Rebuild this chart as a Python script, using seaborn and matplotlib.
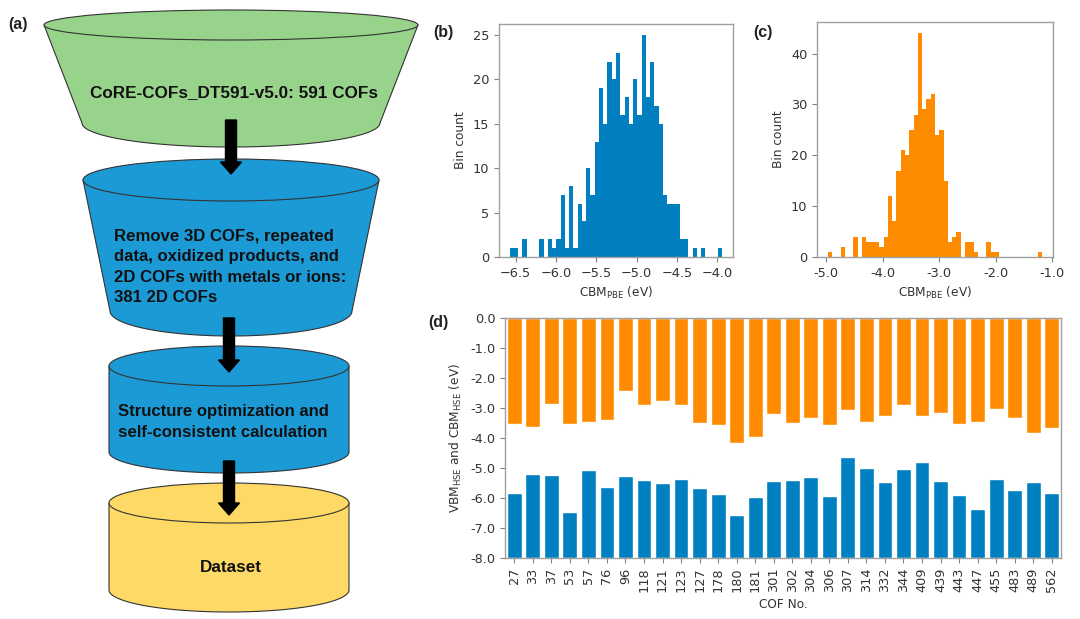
import numpy as np
import pandas as pd
import seaborn as sns
import matplotlib.pyplot as plt
from matplotlib.patches import Ellipse, Polygon, FancyArrow
from matplotlib.ticker import FormatStrFormatter

# ---- data ----
# (b) CBM_PBE histogram: 50 bins between the data min and max
pbe_range = (-6.575, -3.935)
pbe_counts = [1, 1, 0, 2, 0, 0, 0, 2, 0, 2,
              1, 2, 7, 1, 8, 1, 6, 4, 10, 7,
              13, 19, 15, 22, 20, 23, 16, 18, 15, 20,
              16, 25, 18, 22, 17, 15, 7, 6, 6, 6,
              2, 2, 0, 1, 0, 1, 0, 0, 0, 1]

# (c) second CBM_PBE histogram
hse_range = (-4.977, -1.18)
hse_counts = [1, 0, 0, 2, 0, 0, 4, 0, 4, 3,
              3, 3, 2, 4, 12, 7, 17, 21, 20, 25,
              28, 44, 29, 31, 32, 24, 25, 15, 3, 4,
              5, 0, 3, 3, 1, 0, 0, 3, 1, 1,
              0, 0, 0, 0, 0, 0, 0, 0, 0, 1]

# (d) band edges per COF
cof_ids = ['27', '33', '37', '53', '57', '76', '96', '118', '121', '123',
           '127', '178', '180', '181', '301', '302', '304', '306', '307', '314',
           '332', '344', '409', '439', '443', '447', '455', '483', '489', '562']
cbm_hse = [-3.53, -3.62, -2.86, -3.53, -3.45, -3.40, -2.43, -2.90, -2.75, -2.91,
           -3.50, -3.57, -4.16, -3.98, -3.20, -3.51, -3.32, -3.55, -3.05, -3.46,
           -3.25, -2.90, -3.26, -3.15, -3.53, -3.46, -3.02, -3.34, -3.82, -3.67]
vbm_hse = [-5.82, -5.19, -5.24, -6.47, -5.07, -5.64, -5.27, -5.41, -5.50, -5.37,
           -5.68, -5.87, -6.57, -5.95, -5.44, -5.40, -5.30, -5.92, -4.63, -4.99,
           -5.47, -5.02, -4.79, -5.43, -5.89, -6.36, -5.35, -5.72, -5.48, -5.83]
y_floor = -8.0

BLUE = '#0080c0'
ORANGE = '#ff8c00'

sns.set_style("ticks")
plt.rcParams.update({
    'font.family': ['DejaVu Sans'],
    'axes.edgecolor': '#a0a0a0',
    'axes.linewidth': 1.0,
    'xtick.color': '#808080',
    'ytick.color': '#808080',
    'xtick.labelcolor': '#333333',
    'ytick.labelcolor': '#333333',
    'xtick.major.size': 3.5,
    'ytick.major.size': 3.5,
    'xtick.labelsize': 9.3,
    'ytick.labelsize': 9.3,
    'axes.labelsize': 8.7,
    'axes.labelcolor': '#333333',
})

fig = plt.figure(figsize=(10.8, 6.19), dpi=100)
W, H = 1080, 619


def axes_px(x0, y0, x1, y1):
    return fig.add_axes([x0 / W, 1 - y1 / H, (x1 - x0) / W, (y1 - y0) / H])


# ---- (a) flowchart ----
axa = fig.add_axes([0, 0, 420 / W, 1])
axa.set_xlim(0, 420)
axa.set_ylim(H, 0)
axa.axis('off')

FLOW_FONT = ['Liberation Sans', 'DejaVu Sans']
INK = '#111111'


def vessel(cx, ytop, rxt, ryt, ybot, rxb, ryb, color):
    t = np.linspace(np.pi, 0, 80)
    pts = [(cx - rxt, ytop)]
    pts += list(zip(cx + rxb * np.cos(t), ybot + ryb * np.sin(t)))
    pts += [(cx + rxt, ytop)]
    axa.add_patch(Polygon(pts, closed=True, facecolor=color,
                          edgecolor='#333333', linewidth=0.8))
    axa.add_patch(Ellipse((cx, ytop), 2 * rxt, 2 * ryt, facecolor=color,
                          edgecolor='#333333', linewidth=0.8))


def arrow(x, y0, y1):
    axa.add_patch(FancyArrow(x, y0, 0, y1 - y0, width=11, head_width=21,
                             head_length=12, length_includes_head=True,
                             color='black'))


vessel(231, 25, 187, 15, 123, 149, 24, '#97d38a')
axa.text(234, 93, 'CoRE-COFs_DT591-v5.0: 591 COFs', ha='center', va='center',
         fontsize=12.3, family=FLOW_FONT, weight='bold', color=INK)

vessel(231, 180, 148, 21, 311, 121, 25, '#1c9ad6')
arrow(231, 120, 174)
axa.text(114, 267, 'Remove 3D COFs, repeated\ndata, oxidized products, and\n'
         '2D COFs with metals or ions:\n381 2D COFs', ha='left', va='center',
         fontsize=12.1, family=FLOW_FONT, weight='bold', color=INK,
         linespacing=1.42)

vessel(229, 366, 120, 20, 452, 120, 21, '#1c9ad6')
arrow(229, 318, 372)
axa.text(118, 422, 'Structure optimization and\nself-consistent calculation',
         ha='left', va='center', fontsize=12.1, family=FLOW_FONT,
         weight='bold', color=INK, linespacing=1.42)

vessel(229, 503, 120, 20, 590, 120, 22, '#ffd966')
arrow(229, 461, 515)
axa.text(231, 567, 'Dataset', ha='center', va='center', fontsize=12.3,
         family=FLOW_FONT, weight='bold', color=INK)

# ---- (b) histogram ----
axb = axes_px(499, 24, 733, 257)
pbe_edges = np.linspace(pbe_range[0], pbe_range[1], len(pbe_counts) + 1)
df_pbe = pd.DataFrame({'center': (pbe_edges[:-1] + pbe_edges[1:]) / 2,
                       'count': pbe_counts})
sns.histplot(data=df_pbe, x='center', weights='count', bins=len(pbe_counts),
             binrange=pbe_range, color=BLUE, alpha=1, linewidth=0, ax=axb)
axb.set_xlabel(r'CBM$_{\mathregular{PBE}}$ (eV)')
axb.set_ylabel('Bin count')

# ---- (c) histogram ----
axc = axes_px(817, 22, 1053, 257)
hse_edges = np.linspace(hse_range[0], hse_range[1], len(hse_counts) + 1)
df_hse = pd.DataFrame({'center': (hse_edges[:-1] + hse_edges[1:]) / 2,
                       'count': hse_counts})
sns.histplot(data=df_hse, x='center', weights='count', bins=len(hse_counts),
             binrange=hse_range, color=ORANGE, alpha=1, linewidth=0, ax=axc)
axc.set_xticks([-5, -4, -3, -2, -1])
axc.xaxis.set_major_formatter(FormatStrFormatter('%.1f'))
axc.set_xlabel(r'CBM$_{\mathregular{PBE}}$ (eV)')
axc.set_ylabel('Bin count')

# ---- (d) band edges ----
axd = axes_px(505, 318, 1061, 558)
df = pd.DataFrame({'COF': cof_ids, 'CBM': cbm_hse, 'VBM': vbm_hse})
df['VBM_height'] = df['VBM'] - y_floor
sns.barplot(data=df, x='COF', y='CBM', color=ORANGE, saturation=1,
            errorbar=None, width=0.8, ax=axd)
sns.barplot(data=df, x='COF', y='VBM_height', color=BLUE, saturation=1,
            errorbar=None, width=0.8, bottom=y_floor, ax=axd)
axd.set_ylim(y_floor, 0)
axd.set_yticks(np.arange(-8, 0.5, 1.0))
axd.yaxis.set_major_formatter(FormatStrFormatter('%.1f'))
axd.tick_params(axis='x', rotation=90)
axd.set_xlabel('COF No.')
axd.set_ylabel(r'VBM$_{\mathregular{HSE}}$ and CBM$_{\mathregular{HSE}}$ (eV)')

# ---- panel labels ----
for lbl, x, y in [('(a)', 18, 25), ('(b)', 443, 33), ('(c)', 763, 32), ('(d)', 438, 322)]:
    fig.text(x / W, 1 - y / H, lbl, ha='center', va='center', fontsize=11.5,
             family=FLOW_FONT, weight='bold', color='#222222')

fig.savefig('out.png', dpi=100)
